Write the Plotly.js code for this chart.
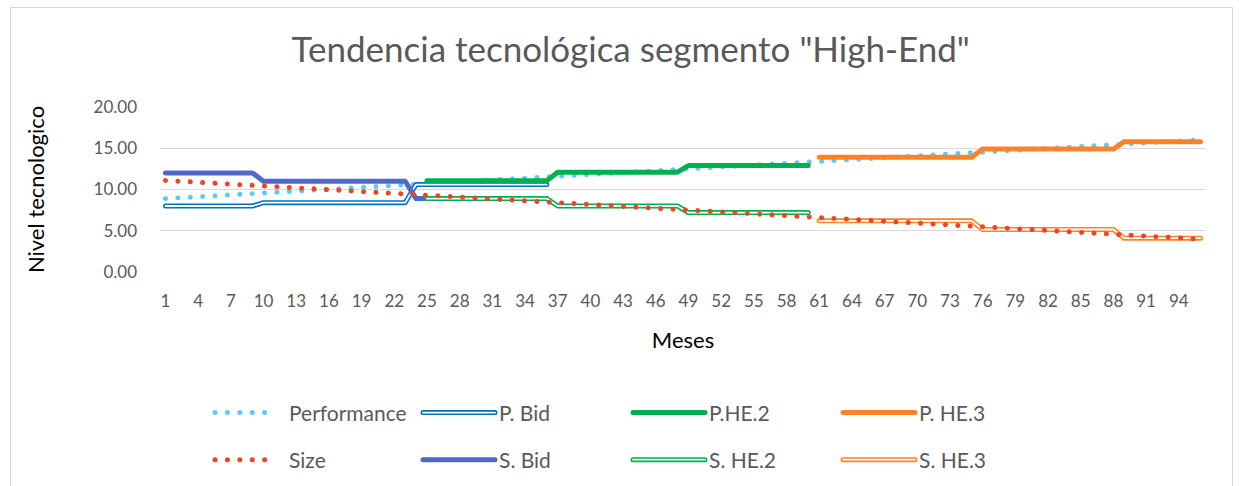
<!DOCTYPE html>
<html><head><meta charset="utf-8">
<script src="https://cdn.plot.ly/plotly-3.0.1.min.js"></script>
<style>
html,body{margin:0;padding:0;background:#fff;}
#wrap{position:relative;width:1239px;height:486px;overflow:hidden;}
#chart{width:1239px;height:486px;}
#frame{position:absolute;left:10px;top:7px;width:1221px;height:490px;border:1px solid #d9d9d9;pointer-events:none;}
.scatterlayer .js-line, .shapelayer path {stroke-linecap:round; stroke-linejoin:round;}
</style></head>
<body><div id="wrap"><div id="chart"></div><div id="frame"></div></div>
<script>
// ---------- DATA ----------
const months = [1,2,3,4,5,6,7,8,9,10,11,12,13,14,15,16,17,18,19,20,21,22,23,24,25,26,27,28,29,30,31,32,33,34,35,36,37,38,39,40,41,42,43,44,45,46,47,48,49,50,51,52,53,54,55,56,57,58,59,60,61,62,63,64,65,66,67,68,69,70,71,72,73,74,75,76,77,78,79,80,81,82,83,84,85,86,87,88,89,90,91,92,93,94,95,96];
const tickVals = [1,4,7,10,13,16,19,22,25,28,31,34,37,40,43,46,49,52,55,58,61,64,67,70,73,76,79,82,85,88,91,94];
const tickLabels = ["1","4","7","10","13","16","19","22","25","28","31","34","37","40","43","46","49","52","55","58","61","64","67","70","73","76","79","82","85","88","91","94"];
const yTickVals = [0,5,10,15,20];
const yTickLabels = ["0.00","5.00","10.00","15.00","20.00"];

const performance = [8.90,8.98,9.05,9.13,9.20,9.28,9.35,9.43,9.50,9.58,9.65,9.73,9.80,9.88,9.95,10.03,10.10,10.18,10.25,10.33,10.40,10.48,10.55,10.63,10.70,10.78,10.85,10.93,11.00,11.08,11.15,11.23,11.30,11.38,11.45,11.53,11.60,11.68,11.75,11.83,11.90,11.98,12.05,12.13,12.20,12.28,12.35,12.43,12.50,12.58,12.65,12.73,12.80,12.88,12.95,13.03,13.10,13.18,13.25,13.33,13.40,13.48,13.55,13.63,13.70,13.78,13.85,13.93,14.00,14.08,14.15,14.23,14.30,14.38,14.45,14.53,14.60,14.68,14.75,14.83,14.90,14.98,15.05,15.13,15.20,15.28,15.35,15.43,15.50,15.58,15.65,15.73,15.80,15.88,15.95,16.03];
const size = [11.10,11.03,10.95,10.88,10.80,10.73,10.65,10.58,10.50,10.43,10.35,10.28,10.20,10.13,10.05,9.98,9.90,9.83,9.75,9.68,9.60,9.53,9.45,9.38,9.30,9.23,9.15,9.08,9.00,8.93,8.85,8.78,8.70,8.63,8.55,8.48,8.40,8.33,8.25,8.18,8.10,8.03,7.95,7.88,7.80,7.73,7.65,7.58,7.50,7.43,7.35,7.28,7.20,7.13,7.05,6.98,6.90,6.83,6.75,6.68,6.60,6.53,6.45,6.38,6.30,6.23,6.15,6.08,6.00,5.93,5.85,5.78,5.70,5.63,5.55,5.48,5.40,5.33,5.25,5.18,5.10,5.03,4.95,4.88,4.80,4.73,4.65,4.58,4.50,4.43,4.35,4.28,4.20,4.13,4.05,3.98];

// Bid product: months 1-36
const pBid = [8.0,8.0,8.0,8.0,8.0,8.0,8.0,8.0,8.0,8.4,8.4,8.4,8.4,8.4,8.4,8.4,8.4,8.4,8.4,8.4,8.4,8.4,8.4,10.6,10.6,10.6,10.6,10.6,10.6,10.6,10.6,10.6,10.6,10.6,10.6,10.6];
const sBid = [12.0,12.0,12.0,12.0,12.0,12.0,12.0,12.0,12.0,11.0,11.0,11.0,11.0,11.0,11.0,11.0,11.0,11.0,11.0,11.0,11.0,11.0,11.0,8.9,8.9,8.9,8.9,8.9,8.9,8.9,8.9,8.9,8.9,8.9,8.9,8.9];
// HE.2 product: months 25-60
const pHE2 = [11.05,11.05,11.05,11.05,11.05,11.05,11.05,11.05,11.05,11.05,11.05,11.05,12.1,12.1,12.1,12.1,12.1,12.1,12.1,12.1,12.1,12.1,12.1,12.1,12.9,12.9,12.9,12.9,12.9,12.9,12.9,12.9,12.9,12.9,12.9,12.9];
const sHE2 = [8.9,8.9,8.9,8.9,8.9,8.9,8.9,8.9,8.9,8.9,8.9,8.9,8.0,8.0,8.0,8.0,8.0,8.0,8.0,8.0,8.0,8.0,8.0,8.0,7.2,7.2,7.2,7.2,7.2,7.2,7.2,7.2,7.2,7.2,7.2,7.2];
// HE.3 product: months 61-96
const pHE3 = [13.9,13.9,13.9,13.9,13.9,13.9,13.9,13.9,13.9,13.9,13.9,13.9,13.9,13.9,13.9,14.9,14.9,14.9,14.9,14.9,14.9,14.9,14.9,14.9,14.9,14.9,14.9,14.9,15.8,15.8,15.8,15.8,15.8,15.8,15.8,15.8];
const sHE3 = [6.2,6.2,6.2,6.2,6.2,6.2,6.2,6.2,6.2,6.2,6.2,6.2,6.2,6.2,6.2,5.15,5.15,5.15,5.15,5.15,5.15,5.15,5.15,5.15,5.15,5.15,5.15,5.15,4.1,4.1,4.1,4.1,4.1,4.1,4.1,4.1];

const monthsBid = months.slice(0,36);
const monthsHE2 = months.slice(24,60);
const monthsHE3 = months.slice(60,96);

// ---------- STYLE ----------
const C = {
  perf:'#5BCBF5', size:'#F0441F', pbid:'#0070C0', sbid:'#5068C8',
  green:'#00B050', orange:'#FF8228', grid:'#D9D9D9', text:'#595959'
};
const DOT = '0.1px,12.3px';
const W = 5, CORE = 1.8;

function solid(x,y,color,name,w){return {x,y,type:'scatter',mode:'lines',name,line:{color,width:w||W},hoverinfo:'skip'};}
function dotted(x,y,color,name){return {x,y,type:'scatter',mode:'lines',name,line:{color,width:W,dash:DOT},hoverinfo:'skip'};}

const traces = [
  dotted(months, performance, C.perf, 'Performance'),
  solid(monthsBid, pBid, C.pbid, 'P. Bid'),
  solid(monthsBid, pBid, '#ffffff', 'P. Bid core', CORE),
  solid(monthsHE2, pHE2, C.green, 'P.HE.2'),
  solid(monthsHE3, pHE3, C.orange, 'P. HE.3'),
  solid(monthsBid, sBid, C.sbid, 'S. Bid'),
  solid(monthsHE2, sHE2, C.green, 'S. HE.2'),
  solid(monthsHE2, sHE2, '#ffffff', 'S. HE.2 core', CORE),
  solid(monthsHE3, sHE3, C.orange, 'S. HE.3'),
  solid(monthsHE3, sHE3, '#ffffff', 'S. HE.3 core', CORE),
  dotted(months, size, C.size, 'Size')
];

// ---------- LAYOUT ----------
const M = {l:160, r:33, t:107, b:214.3};
const PW = 1239 - M.l - M.r, PH = 486 - M.t - M.b;
const px = v => (v - M.l) / PW;
const py = v => (486 - M.b - v) / PH;

const legendItems = [
  {name:'Performance', kind:'dot', color:C.perf, x:213, row:412},
  {name:'P. Bid', kind:'double', color:C.pbid, x:423, row:412},
  {name:'P.HE.2', kind:'solid', color:C.green, x:633, row:412},
  {name:'P. HE.3', kind:'solid', color:C.orange, x:843, row:412},
  {name:'Size', kind:'dot', color:C.size, x:213, row:459},
  {name:'S. Bid', kind:'solid', color:C.sbid, x:423, row:459},
  {name:'S. HE.2', kind:'double', color:C.green, x:633, row:459},
  {name:'S. HE.3', kind:'double', color:C.orange, x:843, row:459}
];
const shapes = [], annotations = [];
legendItems.forEach(it => {
  const x0 = it.kind==='dot' ? it.x+2 : it.x, x1 = it.kind==='dot' ? it.x+64 : it.x+72;
  const base = {type:'line', xref:'paper', yref:'paper', x0:px(x0), x1:px(x1), y0:py(it.row), y1:py(it.row), layer:'above'};
  shapes.push(Object.assign({}, base, {line:{color:it.color, width:W, dash: it.kind==='dot'?DOT:'solid'}}));
  if (it.kind==='double') shapes.push(Object.assign({}, base, {line:{color:'#ffffff', width:CORE}}));
  annotations.push({xref:'paper', yref:'paper', x:px(it.x+74), y:py(it.row), xanchor:'left', yanchor:'middle', showarrow:false, text:it.name, font:{size:21, color:C.text, family:'Lato, sans-serif'}});
});

const layout = {
  width:1239, height:486, margin:M,
  paper_bgcolor:'#ffffff', plot_bgcolor:'#ffffff',
  font:{family:'Lato, sans-serif', color:C.text},
  showlegend:false,
  title:{text:'Tendencia tecnológica segmento "High-End"', font:{size:35, color:C.text, family:'Lato, sans-serif'}, x:0.509, xref:'container', y:1-50/486, yref:'container', xanchor:'center', yanchor:'middle'},
  xaxis:{range:[0.5,96.5], tickmode:'array', tickvals:tickVals, ticktext:tickLabels, showgrid:false, zeroline:false, showline:false, ticks:'', tickfont:{size:17, color:C.text}, ticklabelstandoff:17, title:{text:'Meses', font:{size:22, color:'#000000'}, standoff:22}, fixedrange:true},
  yaxis:{range:[0,20], tickmode:'array', tickvals:yTickVals, ticktext:yTickLabels, showgrid:true, gridcolor:C.grid, gridwidth:1, zeroline:false, showline:false, ticks:'', tickfont:{size:17, color:C.text}, ticklabelstandoff:22, title:{text:'Nivel tecnologico', font:{size:22, color:'#000000'}, standoff:42}, fixedrange:true},
  shapes, annotations
};

Plotly.newPlot('chart', traces, layout, {staticPlot:true, displayModeBar:false});
</script>
</body></html>
